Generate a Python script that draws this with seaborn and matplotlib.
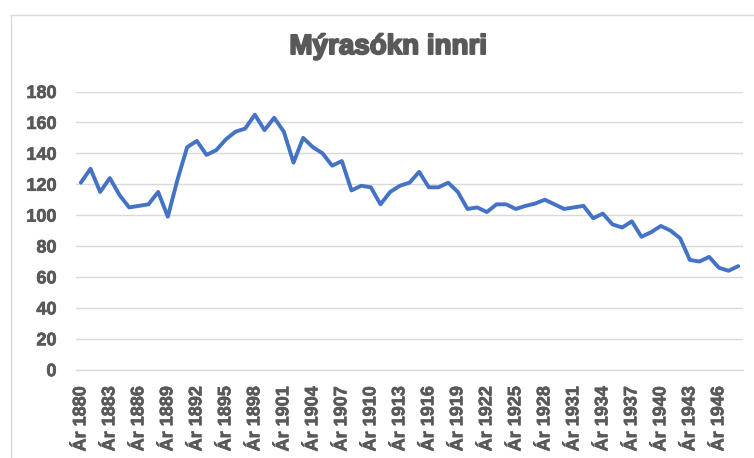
import matplotlib
matplotlib.use("Agg")
import matplotlib.pyplot as plt
from matplotlib.lines import Line2D
import matplotlib.patheffects as pe
import seaborn as sns
import pandas as pd

years = list(range(1880, 1949))
values = [121, 130, 115, 124, 113, 105, 106, 107, 115, 99,
          123, 144, 148, 139, 142, 149, 154, 156, 165, 155,
          163, 154, 134, 150, 144, 140, 132, 135, 116, 119,
          118, 107, 115, 119, 121, 128, 118, 118, 121, 115,
          104, 105, 102, 107, 107, 104, 106, 107.5, 110, 107,
          104, 105, 106, 98, 101, 94, 92, 96, 86, 89,
          93, 90, 85, 71, 70, 73, 66, 64, 67]
labels = [f"Ár {y}" for y in years]
title = "Mýrasókn innri"

sns.set_theme(style="white")
plt.rcParams['font.family'] = ['Liberation Sans', 'DejaVu Sans']

df = pd.DataFrame({"idx": range(len(years)), "value": values})

W, H = 754, 458
fig = plt.figure(figsize=(W / 100, H / 100), dpi=100)
fig.patch.set_facecolor("white")

ax = fig.add_axes([76 / W, (H - 369.7) / H, (743 - 76) / W, (369.7 - 91.5) / H])
sns.lineplot(data=df, x="idx", y="value", ax=ax, color="#4472C4", linewidth=2.8,
             solid_joinstyle="round", solid_capstyle="round")

ax.set_xlim(-0.5, len(years) - 0.5)
ax.set_ylim(0, 180)
ax.set_yticks(range(0, 181, 20))
ax.yaxis.grid(True, color="#D9D9D9", linewidth=1.0)
ax.xaxis.grid(False)
ax.set_axisbelow(True)
for s in ["top", "right", "left"]:
    ax.spines[s].set_visible(False)
ax.spines["bottom"].set_color("#D9D9D9")
ax.spines["bottom"].set_linewidth(1.0)

tick_pos = list(range(0, len(years), 3))
ax.set_xticks(tick_pos)
ax.set_xticklabels([labels[i] for i in tick_pos], rotation=90)
ax.tick_params(axis="x", length=0, pad=12, labelsize=13, labelcolor="#595959")
ax.tick_params(axis="y", length=0, pad=14, labelsize=13, labelcolor="#595959")
for t in ax.get_xticklabels() + ax.get_yticklabels():
    t.set_fontweight("bold")
    t.set_path_effects([pe.withStroke(linewidth=0.5, foreground="#595959")])
ax.set_xlabel("")
ax.set_ylabel("")

fig.text(388 / W, 1 - 47 / H, title, ha="center", va="center",
         fontsize=20, fontweight="bold", color="#595959",
         path_effects=[pe.withStroke(linewidth=1.4, foreground="#595959")])

# chart area border (left and top visible)
fig.add_artist(Line2D([10.5 / W, 10.5 / W], [0, 1 - 14.5 / H], transform=fig.transFigure,
                      color="#D9D9D9", linewidth=1.0))
fig.add_artist(Line2D([10.5 / W, 1], [1 - 14.5 / H, 1 - 14.5 / H], transform=fig.transFigure,
                      color="#D9D9D9", linewidth=1.0))

fig.savefig("out.png", dpi=100)
